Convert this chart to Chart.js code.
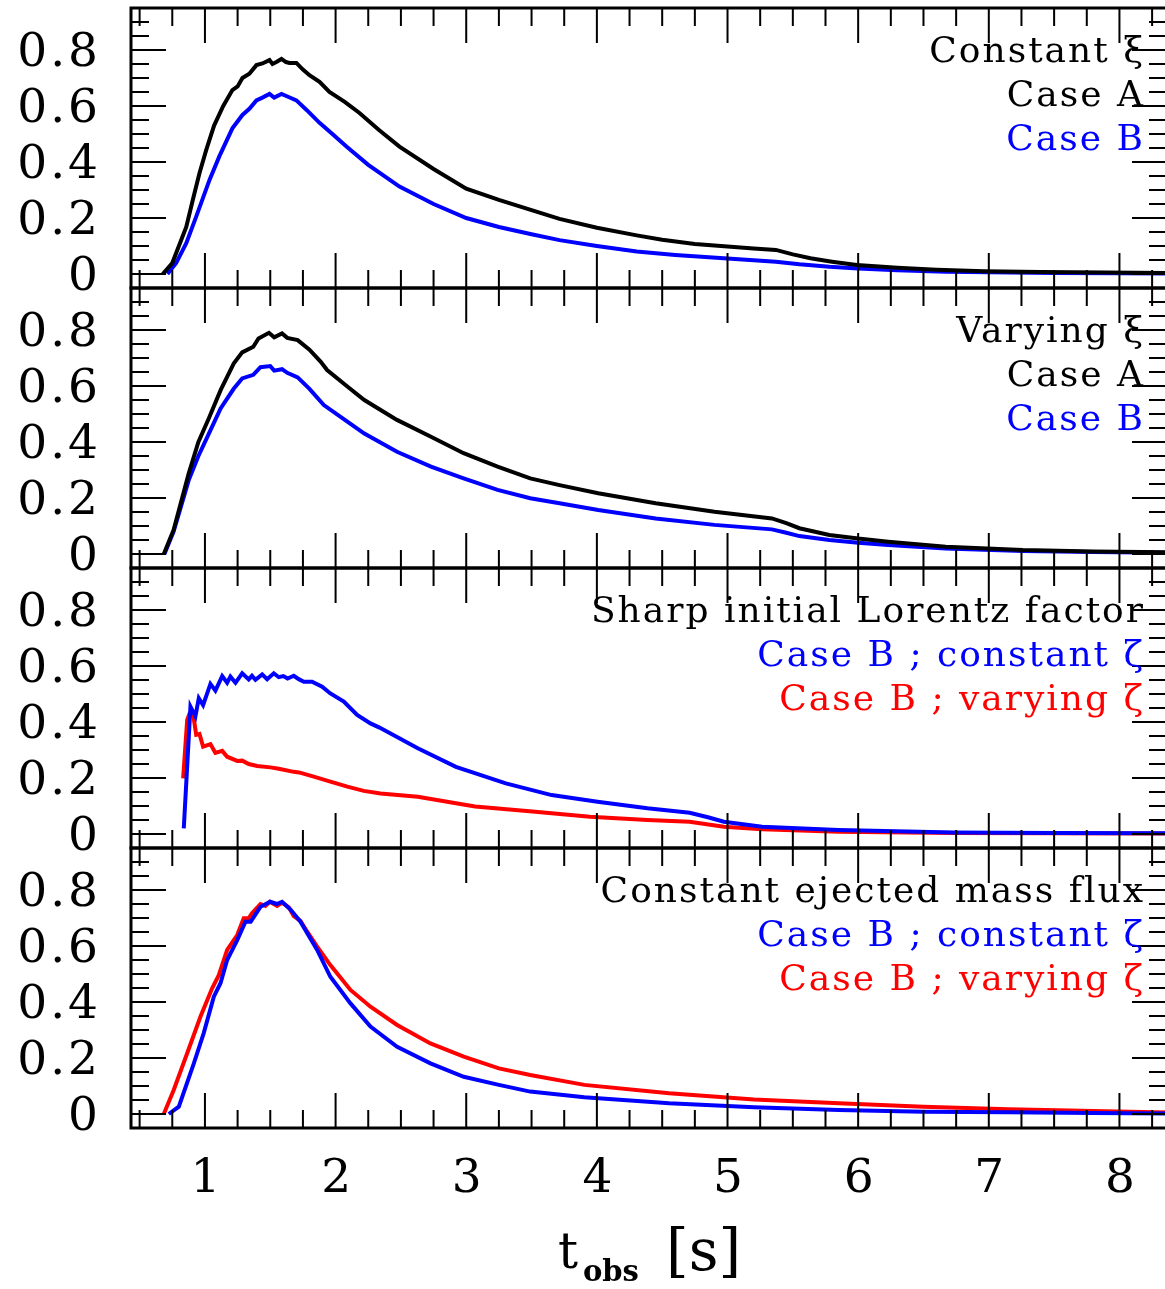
<!DOCTYPE html>
<html><head><meta charset="utf-8">
<script src="https://cdn.jsdelivr.net/npm/chart.js@4.4.1/dist/chart.umd.min.js"></script>
<style>
html,body{margin:0;padding:0;background:#fff;overflow:hidden;width:1165px;height:1289px;position:relative;}
canvas{position:absolute;left:0;}
</style></head><body>
<canvas id="c0" width="1175" height="300" style="top:0px"></canvas>
<canvas id="c1" width="1175" height="300" style="top:280px"></canvas>
<canvas id="c2" width="1175" height="300" style="top:560px"></canvas>
<canvas id="c3" width="1175" height="449" style="top:840px"></canvas>
<script>
// ---------- tick labels ----------
const xTickValues = [1, 2, 3, 4, 5, 6, 7, 8];
const xTickLabels = ['1', '2', '3', '4', '5', '6', '7', '8'];
const yTickValues = [0, 0.2, 0.4, 0.6, 0.8];
const yTickLabels = ['0', '0.2', '0.4', '0.6', '0.8'];

// ---------- panel 1 : constant xi ----------
const p1A_t = [0.677,0.75,0.857,0.907,0.958,1.01,1.07,1.14,1.21,1.25,1.287,1.34,1.394,1.44,1.494,1.517,1.55,1.586,1.62,1.647,1.70,1.75,1.80,1.877,1.953,2.07,2.183,2.33,2.489,2.75,3.0,3.25,3.5,3.714,4.0,4.305,4.5,4.75,5.0,5.2,5.37,5.5,5.635,5.8,5.99,6.3,6.6,6.965,7.4,7.9,8.37];
const p1A_f = [0,0.039,0.168,0.264,0.36,0.443,0.53,0.60,0.657,0.67,0.70,0.715,0.746,0.752,0.764,0.75,0.758,0.768,0.757,0.754,0.754,0.73,0.71,0.686,0.65,0.615,0.575,0.515,0.455,0.375,0.305,0.265,0.228,0.197,0.165,0.138,0.122,0.107,0.098,0.091,0.086,0.07,0.056,0.044,0.032,0.022,0.015,0.010,0.007,0.005,0.004];
const p1B_t = [0.713,0.78,0.857,0.933,1.035,1.11,1.21,1.287,1.34,1.394,1.44,1.494,1.53,1.586,1.64,1.70,1.78,1.877,1.98,2.083,2.25,2.489,2.75,3.0,3.25,3.5,3.714,4.0,4.305,4.6,5.0,5.37,5.55,5.78,6.0,6.3,6.67,7.0,7.5,8.0,8.37];
const p1B_f = [0,0.04,0.11,0.205,0.336,0.42,0.52,0.568,0.59,0.62,0.63,0.643,0.63,0.643,0.632,0.62,0.585,0.54,0.498,0.455,0.39,0.312,0.25,0.2,0.168,0.142,0.121,0.1,0.08,0.068,0.055,0.044,0.035,0.026,0.02,0.013,0.008,0.006,0.004,0.003,0.002];

// ---------- panel 2 : varying xi ----------
const p2A_t = [0.685,0.76,0.876,0.95,1.03,1.12,1.22,1.285,1.37,1.41,1.49,1.53,1.59,1.63,1.71,1.80,1.885,1.935,2.09,2.22,2.47,2.73,2.98,3.24,3.49,3.714,4.01,4.45,4.90,5.34,5.45,5.55,5.78,6.0,6.23,6.67,7.26,7.8,8.37];
const p2A_f = [0,0.086,0.288,0.40,0.485,0.585,0.68,0.72,0.74,0.77,0.79,0.774,0.788,0.772,0.764,0.73,0.687,0.657,0.598,0.55,0.479,0.419,0.36,0.312,0.27,0.246,0.217,0.181,0.151,0.127,0.11,0.092,0.068,0.055,0.044,0.026,0.014,0.009,0.006];
const p2B_t = [0.69,0.76,0.876,0.95,1.03,1.12,1.22,1.285,1.37,1.425,1.50,1.53,1.59,1.63,1.71,1.80,1.91,2.09,2.22,2.47,2.73,2.98,3.24,3.49,3.714,4.01,4.45,4.90,5.34,5.45,5.55,5.78,6.0,6.23,6.67,7.26,7.8,8.37];
const p2B_f = [0,0.08,0.264,0.35,0.43,0.52,0.59,0.627,0.64,0.667,0.671,0.655,0.66,0.647,0.631,0.59,0.532,0.473,0.43,0.365,0.312,0.27,0.229,0.199,0.181,0.157,0.127,0.104,0.088,0.076,0.064,0.05,0.04,0.032,0.02,0.011,0.007,0.004];

// ---------- panel 3 : sharp initial Lorentz factor ----------
const p3C_t = [0.838,0.889,0.927,0.953,0.986,1.042,1.08,1.132,1.17,1.195,1.234,1.285,1.335,1.36,1.387,1.438,1.476,1.527,1.565,1.60,1.633,1.68,1.718,1.757,1.82,1.897,1.96,2.063,2.165,2.267,2.336,2.629,2.921,3.303,3.654,4.005,4.387,4.71,4.85,4.972,5.265,5.85,6.73,7.5,8.37];
const p3C_f = [0.02,0.455,0.42,0.485,0.46,0.536,0.512,0.564,0.54,0.562,0.54,0.574,0.552,0.565,0.551,0.57,0.553,0.574,0.56,0.564,0.555,0.565,0.553,0.544,0.544,0.526,0.502,0.473,0.425,0.395,0.38,0.306,0.24,0.181,0.139,0.115,0.092,0.076,0.06,0.044,0.026,0.014,0.005,0.004,0.003];
const p3V_t = [0.833,0.864,0.882,0.895,0.912,0.933,0.958,0.986,1.042,1.08,1.132,1.17,1.247,1.285,1.335,1.40,1.502,1.565,1.68,1.72,1.833,1.96,2.09,2.216,2.344,2.629,3.068,3.507,3.947,4.387,4.71,4.972,5.265,5.85,6.73,7.5,8.37];
const p3V_f = [0.199,0.407,0.43,0.437,0.42,0.354,0.357,0.312,0.321,0.29,0.297,0.276,0.261,0.262,0.25,0.243,0.238,0.233,0.222,0.22,0.205,0.187,0.169,0.154,0.145,0.133,0.098,0.080,0.062,0.05,0.044,0.026,0.017,0.008,0.004,0.003,0.002];

// ---------- panel 4 : constant ejected mass flux ----------
const p4C_t = [0.723,0.80,0.915,0.99,1.068,1.119,1.17,1.247,1.31,1.35,1.425,1.50,1.55,1.59,1.655,1.731,1.859,1.96,2.114,2.267,2.471,2.726,2.981,3.25,3.49,3.904,4.553,5.203,5.852,6.5,7.15,7.8,8.37];
const p4C_f = [0,0.026,0.181,0.288,0.419,0.467,0.55,0.621,0.687,0.687,0.74,0.758,0.75,0.758,0.73,0.687,0.586,0.49,0.395,0.312,0.24,0.181,0.133,0.104,0.08,0.06,0.038,0.024,0.014,0.008,0.006,0.004,0.002];
const p4V_t = [0.685,0.761,0.864,0.966,1.055,1.106,1.17,1.247,1.297,1.336,1.36,1.425,1.463,1.496,1.553,1.591,1.642,1.68,1.731,1.783,1.859,1.96,2.114,2.267,2.471,2.726,2.981,3.25,3.49,3.904,4.553,5.203,5.852,6.5,7.15,7.80,8.37];
const p4V_f = [0,0.086,0.217,0.348,0.449,0.496,0.586,0.639,0.699,0.70,0.717,0.75,0.743,0.758,0.743,0.755,0.738,0.707,0.69,0.651,0.598,0.532,0.443,0.383,0.318,0.252,0.205,0.163,0.139,0.104,0.074,0.052,0.038,0.026,0.017,0.011,0.005];

// ---------- layout / style ----------
const X_MIN = 0.434, X_MAX = 8.364, Y_MIN = -0.05, Y_MAX = 0.95;
const SERIF = '"DejaVu Serif", "Liberation Serif", serif';
const BLUE = '#0000ff', RED = '#ff0000', BLACK = '#000000';

function pts(t, f) { return t.map((v, i) => ({ x: v, y: f[i] })); }
function ds(t, f, color) {
  return { data: pts(t, f), borderColor: color, borderWidth: 4, pointRadius: 0, tension: 0, fill: false };
}

const spacingPlugin = {
  id: 'spacing',
  beforeDraw(chart) { try { chart.ctx.letterSpacing = '3px'; } catch (e) {} }
};

const framePlugin = {
  id: 'frame',
  afterDatasetsDraw(chart) {
    const { ctx, chartArea: a, scales: { x, y } } = chart;
    ctx.save();
    ctx.strokeStyle = '#000';
    ctx.lineWidth = 2;
    ctx.beginPath();
    for (let k = 0; k * 0.25 + 0.25 <= X_MAX; k++) {
      const v = 0.25 + k * 0.25;
      const px = x.getPixelForValue(v);
      if (px < a.left + 2 || px > a.right - 2) continue;
      const major = k % 4 === 3;
      const L = major ? 35 : 18;
      ctx.moveTo(px, a.top); ctx.lineTo(px, a.top + L);
      ctx.moveTo(px, a.bottom); ctx.lineTo(px, a.bottom - L);
    }
    for (let k = -1; k <= 19; k++) {
      const v = k * 0.05;
      const py = y.getPixelForValue(v);
      if (py < a.top + 2 || py > a.bottom - 2) continue;
      const major = k % 4 === 0;
      const L = major ? 35 : 18;
      ctx.moveTo(a.left, py); ctx.lineTo(a.left + L, py);
      ctx.moveTo(a.right, py); ctx.lineTo(a.right - L, py);
    }
    ctx.stroke();
    ctx.lineWidth = 3;
    ctx.strokeRect(a.left, a.top, a.right - a.left, a.bottom - a.top);
    ctx.restore();
  }
};

const notesPlugin = {
  id: 'notes',
  afterDraw(chart, args, opts) {
    const { ctx, chartArea: a } = chart;
    ctx.save();
    ctx.font = '36px ' + SERIF;
    ctx.textAlign = 'right';
    ctx.textBaseline = 'alphabetic';
    try { ctx.letterSpacing = '2px'; } catch (e) {}
    (opts.lines || []).forEach((ln, i) => {
      ctx.fillStyle = ln[1];
      ctx.fillText(ln[0], 1145, a.top + 54 + i * 44);
    });
    ctx.restore();
    if (opts.xtitle) {
      ctx.save();
      try { ctx.letterSpacing = '0px'; } catch (e) {}
      ctx.fillStyle = '#000';
      ctx.textBaseline = 'alphabetic';
      ctx.textAlign = 'left';
      ctx.font = '50px ' + SERIF;
      ctx.fillText('t', 558, a.bottom + 140);
      ctx.font = 'bold 29px ' + SERIF;
      ctx.fillText('obs', 583, a.bottom + 153);
      ctx.font = '58px ' + SERIF;
      ctx.fillText('[s]', 666, a.bottom + 142);
      ctx.restore();
    }
  }
};

function makeChart(id, datasets, lines, showX) {
  return new Chart(document.getElementById(id), {
    type: 'line',
    data: { datasets },
    options: {
      responsive: false, animation: false, devicePixelRatio: 1,
      layout: { padding: { top: 8, right: 8, left: 0, bottom: showX ? 0 : 12 } },
      plugins: { legend: { display: false }, tooltip: { enabled: false }, title: { display: false },
                 notes: { lines, xtitle: showX } },
      scales: {
        x: {
          type: 'linear', min: X_MIN, max: X_MAX, display: showX,
          grid: { display: false, drawTicks: false }, border: { display: false },
          afterBuildTicks: s => { s.ticks = xTickValues.map(v => ({ value: v })); },
          afterFit: s => { s.height = showX ? 161 : 0; s.paddingLeft = 0; s.paddingRight = 0; s.paddingTop = 0; s.paddingBottom = 0; },
          ticks: { callback: v => xTickLabels[xTickValues.indexOf(v)], color: '#000', labelOffset: 2,
                   font: { family: SERIF, size: 47 }, padding: 24, maxRotation: 0, autoSkip: false }
        },
        y: {
          type: 'linear', min: Y_MIN, max: Y_MAX,
          grid: { display: false, drawTicks: false }, border: { display: false },
          afterBuildTicks: s => { s.ticks = yTickValues.map(v => ({ value: v })); },
          afterFit: s => { s.width = 131; s.paddingTop = 0; s.paddingBottom = 0; s.paddingLeft = 0; s.paddingRight = 0; },
          ticks: { callback: v => yTickLabels[yTickValues.indexOf(v)], color: '#000', labelOffset: 4,
                   font: { family: SERIF, size: 47 }, padding: 30, autoSkip: false }
        }
      }
    },
    plugins: [spacingPlugin, framePlugin, notesPlugin]
  });
}

makeChart('c0', [ds(p1A_t, p1A_f, BLACK), ds(p1B_t, p1B_f, BLUE)],
  [['Constant \u03be', BLACK], ['Case A', BLACK], ['Case B', BLUE]], false);
makeChart('c1', [ds(p2A_t, p2A_f, BLACK), ds(p2B_t, p2B_f, BLUE)],
  [['Varying \u03be', BLACK], ['Case A', BLACK], ['Case B', BLUE]], false);
makeChart('c2', [ds(p3C_t, p3C_f, BLUE), ds(p3V_t, p3V_f, RED)],
  [['Sharp initial Lorentz factor', BLACK], ['Case B ; constant \u03b6', BLUE], ['Case B ; varying \u03b6', RED]], false);
makeChart('c3', [ds(p4C_t, p4C_f, BLUE), ds(p4V_t, p4V_f, RED)],
  [['Constant ejected mass flux', BLACK], ['Case B ; constant \u03b6', BLUE], ['Case B ; varying \u03b6', RED]], true);
</script>
</body></html>
